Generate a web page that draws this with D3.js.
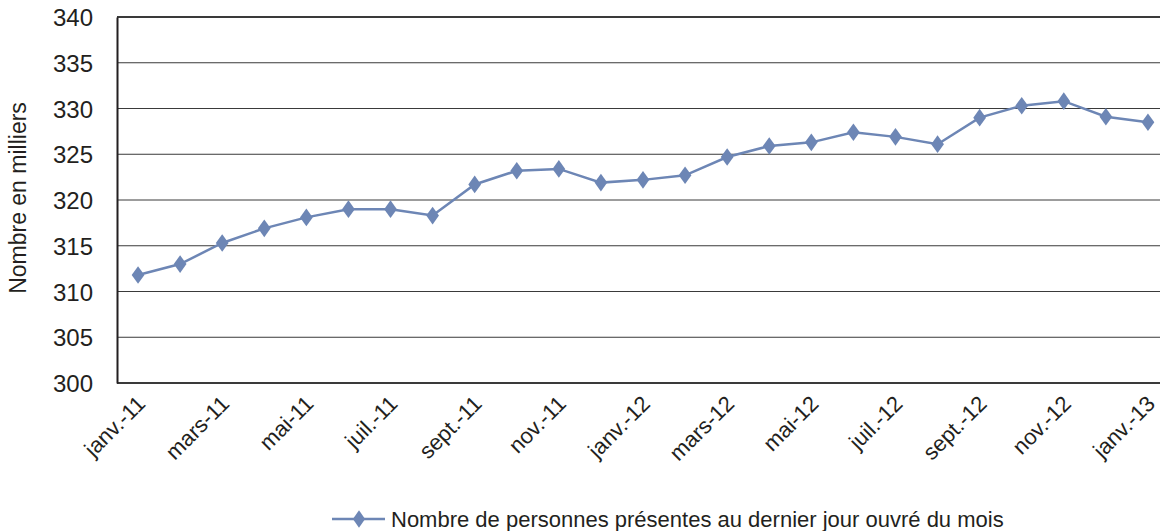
<!DOCTYPE html>
<html>
<head>
<meta charset="utf-8">
<script src="https://cdn.jsdelivr.net/npm/d3@7"></script>
<style>
  body { margin: 0; background: #fff; }
  text { font-family: "Liberation Sans", Arial, sans-serif; fill: #231f20; }
</style>
</head>
<body>
<div id="chart"></div>
<script>
// months, janv.-11 .. janv.-13
const months = ["janv.-11", "févr.-11", "mars-11", "avr.-11", "mai-11", "juin-11", "juil.-11", "août-11",
  "sept.-11", "oct.-11", "nov.-11", "déc.-11", "janv.-12", "févr.-12", "mars-12", "avr.-12", "mai-12",
  "juin-12", "juil.-12", "août-12", "sept.-12", "oct.-12", "nov.-12", "déc.-12", "janv.-13"];

// thousands of people
const values = [311.8, 313.0, 315.3, 316.9, 318.1, 319.0, 319.0, 318.3, 321.7, 323.2, 323.4, 321.9,
  322.2, 322.7, 324.7, 325.9, 326.3, 327.4, 326.9, 326.1, 329.0, 330.3, 330.8, 329.1, 328.5];

const yTicks = [300, 305, 310, 315, 320, 325, 330, 335, 340];
const seriesName = "Nombre de personnes présentes au dernier jour ouvré du mois";

const width = 1160, height = 531;
const mLeft = 117, mTop = 17, mBottom = 383, plotRight = 1169;

const svg = d3.select("#chart").append("svg").attr("width", width).attr("height", height);

const x = d3.scalePoint().domain(months).range([mLeft, plotRight]).padding(0.5);
const y = d3.scaleLinear().domain([300, 340]).range([mBottom, mTop]);

// gridlines
svg.append("g").selectAll("line").data(yTicks).join("line")
  .attr("x1", mLeft).attr("x2", plotRight)
  .attr("y1", d => y(d)).attr("y2", d => y(d))
  .attr("stroke", "#3a3a3a").attr("stroke-width", d => (d == 300 || d == 340) ? 2 : 1);

// y axis
const yAxis = svg.append("g").attr("transform", `translate(${mLeft},0)`)
  .call(d3.axisLeft(y).tickValues(yTicks).tickSize(0).tickPadding(24));
yAxis.select(".domain").attr("stroke", "#231f20").attr("stroke-width", 2);
yAxis.selectAll("text").style("font-size", "24px").style("font-family", "Liberation Sans, Arial, sans-serif")
  .attr("fill", "#231f20").attr("dy", "0.36em");

// x axis, every other month
const xAxis = svg.append("g").attr("transform", `translate(0,${mBottom})`)
  .call(d3.axisBottom(x).tickValues(months.filter((d, i) => i % 2 == 0)).tickSize(0));
xAxis.select(".domain").remove();
xAxis.selectAll("text")
  .style("font-size", "22px").style("font-family", "Liberation Sans, Arial, sans-serif").attr("fill", "#231f20")
  .attr("text-anchor", "end").attr("dy", 0).attr("y", 0)
  .attr("transform", "translate(8,22) rotate(-45)");

// axis title
svg.append("text").attr("transform", "translate(26,198) rotate(-90)")
  .attr("text-anchor", "middle").style("font-size", "23px").text("Nombre en milliers");

const color = "#6d86b5";
const diamond = d3.symbol().type(d3.symbolDiamond).size(90);

svg.append("path").datum(values)
  .attr("fill", "none").attr("stroke", color).attr("stroke-width", 2.5)
  .attr("d", d3.line().x((d, i) => x(months[i])).y(d => y(d)));

svg.append("g").selectAll("path").data(values).join("path")
  .attr("d", diamond).attr("fill", color)
  .attr("transform", (d, i) => `translate(${x(months[i])},${y(d)}) scale(1.25,1)`);

// legend
const lg = svg.append("g").attr("transform", "translate(332,519)");
lg.append("line").attr("x1", 0).attr("x2", 53).attr("stroke", color).attr("stroke-width", 2.5);
lg.append("path").attr("d", diamond).attr("fill", color).attr("transform", "translate(27,0) scale(1.2,1)");
lg.append("text").attr("x", 59).attr("y", 8).style("font-size", "22px").text(seriesName);
</script>
</body>
</html>
